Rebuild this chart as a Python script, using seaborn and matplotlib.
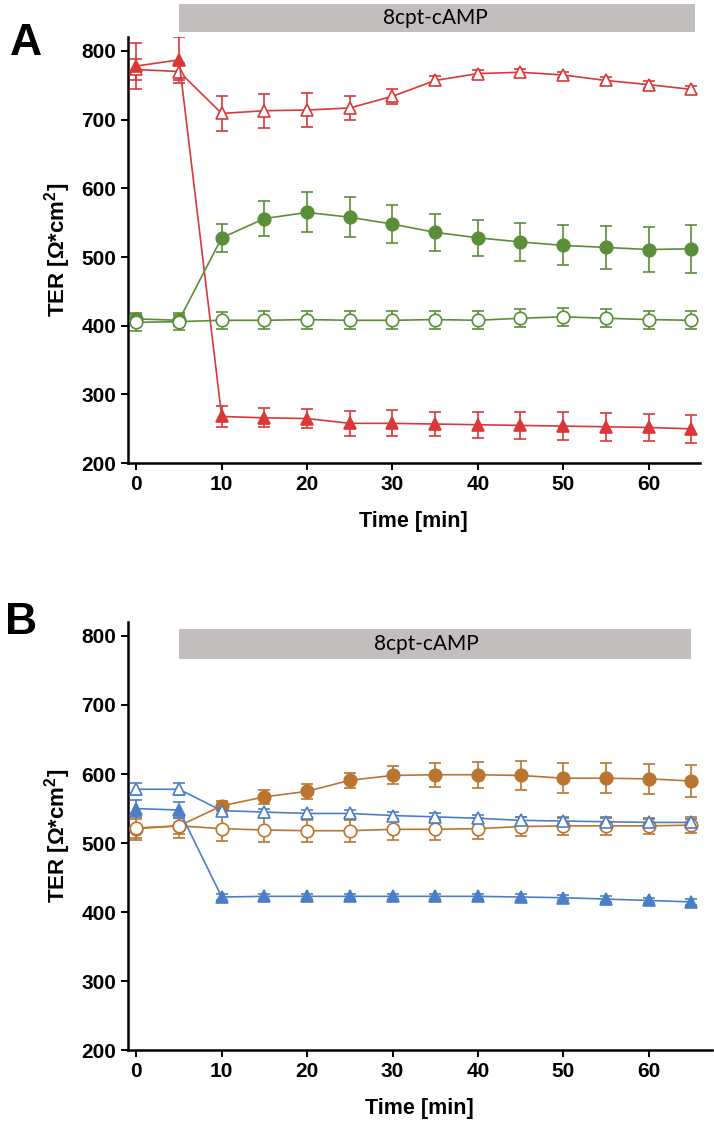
import matplotlib

matplotlib.use("Agg")

import matplotlib.pyplot as plt
import seaborn as sns

sns.set_theme(style="ticks")
plt.rcParams["font.family"] = ["Liberation Sans", "DejaVu Sans"]
plt.rcParams["mathtext.fontset"] = "custom"
plt.rcParams["mathtext.rm"] = "Liberation Sans"
plt.rcParams["mathtext.bf"] = "Liberation Sans:bold"
plt.rcParams["text.color"] = "black"
plt.rcParams["axes.labelcolor"] = "black"
plt.rcParams["xtick.color"] = "black"
plt.rcParams["ytick.color"] = "black"

# time points [min]
time = [0, 5, 10, 15, 20, 25, 30, 35, 40, 45, 50, 55, 60, 65]

# panel A
a_red_filled = [778, 787, 268, 266, 265, 258, 258, 257, 256, 255, 254, 253, 252, 250]
a_red_filled_err = [33, 33, 15, 14, 14, 18, 19, 18, 19, 20, 20, 20, 20, 20]
a_red_open = [773, 770, 709, 713, 714, 717, 734, 757, 767, 769, 765, 757, 751, 744]
a_red_open_err = [15, 13, 25, 25, 25, 18, 11, 6, 5, 5, 5, 5, 5, 5]
a_green_filled = [410, 408, 528, 556, 565, 558, 548, 536, 528, 522, 517, 514, 511, 512]
a_green_filled_err = [8, 8, 20, 26, 29, 29, 28, 27, 26, 27, 29, 31, 33, 35]
a_green_open = [405, 406, 408, 408, 409, 408, 408, 409, 408, 411, 413, 411, 409, 408]
a_green_open_err = [12, 12, 12, 13, 13, 13, 13, 13, 13, 13, 13, 13, 13, 13]

# panel B
b_orange_filled = [521, 525, 554, 567, 575, 591, 598, 599, 599, 598, 594, 594, 593, 590]
b_orange_filled_err = [14, 12, 7, 10, 11, 11, 13, 17, 19, 21, 22, 22, 22, 23]
b_orange_open = [522, 525, 521, 519, 518, 518, 520, 520, 521, 524, 525, 525, 525, 526]
b_orange_open_err = [17, 17, 18, 17, 16, 16, 15, 15, 15, 14, 13, 13, 12, 12]
b_blue_filled = [550, 548, 422, 423, 423, 423, 423, 423, 423, 422, 421, 419, 417, 415]
b_blue_filled_err = [12, 12, 4, 4, 4, 4, 4, 4, 4, 4, 4, 4, 4, 4]
b_blue_open = [578, 578, 547, 545, 543, 543, 540, 538, 536, 533, 532, 531, 530, 530]
b_blue_open_err = [9, 9, 5, 5, 5, 5, 5, 5, 5, 5, 5, 5, 5, 5]

RED = "#DA3838"
GREEN = "#5A8E38"
ORANGE = "#BA7530"
BLUE = "#4A7FC8"
BAR_GRAY = "#C2BEBE"


def series(ax, y, err, color, marker, filled):
    ax.errorbar(time, y, yerr=err, fmt="none", ecolor=color, elinewidth=1.2,
                capsize=4, capthick=1.2, zorder=2)
    sns.lineplot(x=time, y=y, ax=ax, color=color, marker=marker, markersize=9,
                 markerfacecolor=color if filled else "white", markeredgecolor=color,
                 markeredgewidth=1.2, linewidth=1.2, zorder=3)


def style_axes(ax, xmax):
    ax.set_xlim(-1.0, xmax)
    ax.set_ylim(200, 820)
    ax.set_xticks(range(0, 61, 10))
    ax.set_yticks(range(200, 801, 100))
    sns.despine(ax=ax)
    for side in ["left", "bottom"]:
        ax.spines[side].set_linewidth(1.8)
        ax.spines[side].set_color("black")
    ax.tick_params(axis="both", direction="out", length=5, width=1.4, color="black")
    for lab in ax.get_yticklabels() + ax.get_xticklabels():
        lab.set_fontsize(15)
        lab.set_fontweight("bold")
    ax.set_xlabel("Time [min]", fontsize=15.5, fontweight="bold", labelpad=12)
    ax.set_ylabel(r"TER [Ω*cm$^{\mathbf{2}}$]", fontsize=16, fontweight="bold", labelpad=6)


fig = plt.figure(figsize=(7.14, 11.27), dpi=100)
ax_a = fig.add_axes([0.179, 0.589, 0.801, 0.378])
ax_b = fig.add_axes([0.179, 0.068, 0.818, 0.380])

series(ax_a, a_red_open, a_red_open_err, RED, "^", False)
series(ax_a, a_red_filled, a_red_filled_err, RED, "^", True)
series(ax_a, a_green_filled, a_green_filled_err, GREEN, "o", True)
series(ax_a, a_green_open, a_green_open_err, GREEN, "o", False)
style_axes(ax_a, 66.0)

series(ax_b, b_orange_filled, b_orange_filled_err, ORANGE, "o", True)
series(ax_b, b_orange_open, b_orange_open_err, ORANGE, "o", False)
series(ax_b, b_blue_filled, b_blue_filled_err, BLUE, "^", True)
series(ax_b, b_blue_open, b_blue_open_err, BLUE, "^", False)
style_axes(ax_b, 67.4)

# treatment bars
ax_a.fill_between([5, 65.5], 828, 868, color=BAR_GRAY, lw=0, clip_on=False, zorder=1)
ax_a.text(35, 848, "8cpt-cAMP", ha="center", va="center", fontsize=15, family="Lato",
          clip_on=False)
ax_b.fill_between([5, 65], 767, 810, color=BAR_GRAY, lw=0, zorder=1)
ax_b.text(34, 788.5, "8cpt-cAMP", ha="center", va="center", fontsize=15, family="Lato")

fig.text(0.037, 0.961, "A", fontsize=32, fontweight="bold", ha="center", va="center")
fig.text(0.030, 0.448, "B", fontsize=32, fontweight="bold", ha="center", va="center")

fig.savefig("out.png", dpi=100)
